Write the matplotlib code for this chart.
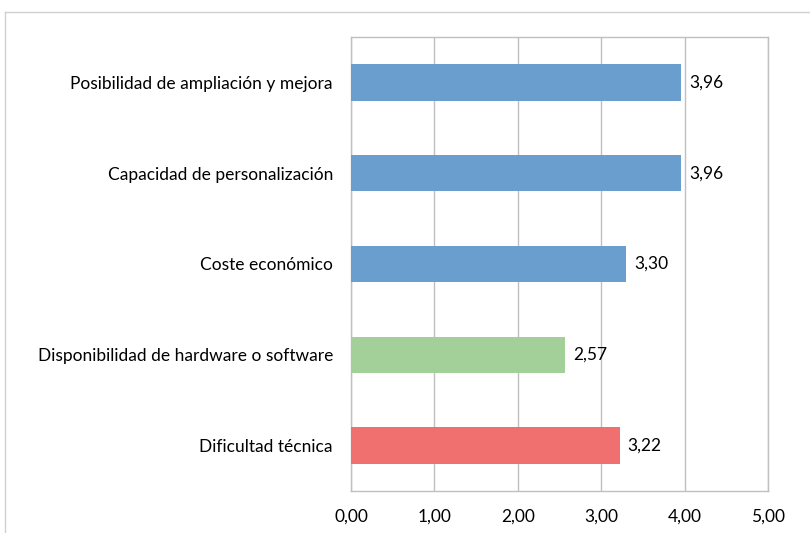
import matplotlib.pyplot as plt
from matplotlib.lines import Line2D

categories = ['Posibilidad de ampliación y mejora',
              'Capacidad de personalización',
              'Coste económico',
              'Disponibilidad de hardware o software',
              'Dificultad técnica']
values = [3.96, 3.96, 3.30, 2.57, 3.22]
colors = ['#6a9ecf', '#6a9ecf', '#6a9ecf', '#a3cf98', '#f07070']
xticks = [0, 1, 2, 3, 4, 5]

plt.rcParams['font.family'] = ['Lato', 'DejaVu Sans']
fs = 12.5

fig = plt.figure(figsize=(8.1, 5.33), dpi=100)
ax = fig.add_axes([351/810, 1 - 491/533, 417/810, 454/533])

# frame of the chart area (runs off the right and bottom edges)
fig.add_artist(Line2D([5/810, 1.0], [1 - 12/533, 1 - 12/533], color='#d0d0d0', lw=1))
fig.add_artist(Line2D([5/810, 5/810], [0, 1 - 12/533], color='#d0d0d0', lw=1))

pos = list(range(len(categories)))
ax.barh(pos, values, height=0.4, color=colors, zorder=3)
for p, v in zip(pos, values):
    ax.annotate(f'{v:.2f}'.replace('.', ','), (v, p), xytext=(5.5, 0), textcoords='offset points',
                va='center', ha='left', fontsize=fs)

ax.set_xlim(0, 5)
ax.set_ylim(len(categories) - 0.5, -0.5)
ax.set_xticks(xticks)
ax.set_xticklabels([f'{t:.2f}'.replace('.', ',') for t in xticks], fontsize=fs)
ax.set_yticks(pos)
ax.set_yticklabels(categories, fontsize=fs)
ax.tick_params(axis='x', length=0, pad=13)
ax.tick_params(axis='y', length=0, pad=13)
ax.grid(axis='x', color='#bfbfbf', lw=1, zorder=0)
for s in ax.spines.values():
    s.set_color('#bfbfbf')
    s.set_linewidth(1)

plt.savefig('out.png', dpi=100)
